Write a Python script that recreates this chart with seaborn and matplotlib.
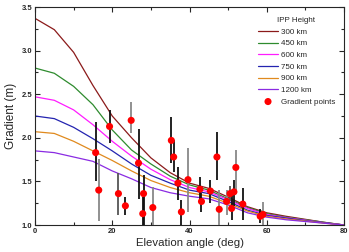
import pandas as pd
import seaborn as sns
from matplotlib import pyplot as plt

# model curves (every 5 deg)
elev = [0, 5, 10, 15, 20, 25, 30, 35, 40, 45, 50, 55, 60, 65, 70, 75, 80]
g300 = [3.37, 3.24, 2.98, 2.60, 2.25, 2.00, 1.77, 1.60, 1.48, 1.42, 1.32, 1.21, 1.14, 1.10, 1.065, 1.03, 1.00]
g450 = [2.80, 2.74, 2.59, 2.38, 2.09, 1.86, 1.70, 1.56, 1.46, 1.40, 1.30, 1.20, 1.13, 1.09, 1.06, 1.03, 1.00]
g600 = [2.47, 2.43, 2.32, 2.15, 1.96, 1.79, 1.64, 1.52, 1.43, 1.38, 1.29, 1.19, 1.12, 1.085, 1.055, 1.025, 1.00]
g750 = [2.25, 2.22, 2.12, 1.99, 1.85, 1.70, 1.57, 1.48, 1.40, 1.36, 1.27, 1.17, 1.11, 1.08, 1.05, 1.025, 1.00]
g900 = [2.07, 2.05, 1.96, 1.85, 1.74, 1.62, 1.51, 1.43, 1.37, 1.33, 1.25, 1.16, 1.10, 1.07, 1.045, 1.02, 1.00]
g1200 = [1.85, 1.83, 1.78, 1.73, 1.62, 1.53, 1.43, 1.37, 1.33, 1.30, 1.23, 1.14, 1.09, 1.06, 1.04, 1.02, 1.00]
heights = ['300 km', '450 km', '600 km', '750 km', '900 km', '1200 km']
colors = ['#8b1a1a', '#2e8b2e', '#ff1cff', '#2424b0', '#e08a1e', '#8a2be2']

# measured gradient points with error bars
elev_pts = [15.7, 16.5, 19.3, 21.6, 23.4, 24.9, 26.8, 27.9, 28.1, 30.5, 35.3, 35.9, 37.0, 37.9,
            39.6, 42.7, 43.1, 45.4, 47.1, 47.7, 49.6, 50.5, 50.9, 51.5, 52.0, 53.8, 58.3, 59.0]
grad_pts = [1.83, 1.40, 2.13, 1.36, 1.22, 2.20, 1.71, 1.13, 1.36, 1.20, 1.97, 1.78, 1.48, 1.15,
            1.52, 1.41, 1.27, 1.39, 1.78, 1.18, 1.27, 1.36, 1.19, 1.38, 1.66, 1.24, 1.10, 1.12]
lower = [1.50, 1.05, 1.94, 1.12, 1.12, 2.05, 1.30, 0.99, 0.99, 1.00, 1.71, 1.61, 1.29, 1.00,
         1.15, 1.27, 1.15, 1.25, 1.52, 0.97, 1.12, 1.28, 1.06, 1.22, 1.40, 1.06, 1.02, 1.00]
upper = [2.18, 1.76, 2.32, 1.60, 1.32, 2.41, 2.10, 1.32, 1.57, 1.44, 2.24, 1.97, 1.67, 1.29,
         1.88, 1.55, 1.37, 1.52, 2.07, 1.40, 1.40, 1.45, 1.37, 1.52, 1.86, 1.42, 1.18, 1.26]
bar_colors = ['#111111', '#888888', '#111111', '#555555', '#111111', '#888888', '#111111',
              '#111111', '#111111', '#888888', '#111111', '#111111', '#111111', '#111111',
              '#888888', '#111111', '#111111', '#111111', '#111111', '#888888', '#888888',
              '#555555', '#111111', '#111111', '#888888', '#111111', '#111111', '#888888']

sns.set_style('ticks')
plt.rcParams['font.family'] = ['Liberation Sans', 'DejaVu Sans']

df = pd.DataFrame({
    'elev': elev * 6,
    'grad': g300 + g450 + g600 + g750 + g900 + g1200,
    'IPP Height': sum([[h] * len(elev) for h in heights], []),
})
pts = pd.DataFrame({'elev': elev_pts, 'grad': grad_pts})

fig, ax = plt.subplots(figsize=(3.49, 2.52), dpi=100)
fig.subplots_adjust(left=35 / 349, right=344 / 349, bottom=1 - 225 / 252, top=1 - 7 / 252)

sns.lineplot(data=df, x='elev', y='grad', hue='IPP Height', hue_order=heights,
             palette=dict(zip(heights, colors)), linewidth=0.9, ax=ax)
ax.vlines(elev_pts, lower, upper, colors=bar_colors, linewidth=1.3, zorder=3)
sns.scatterplot(data=pts, x='elev', y='grad', color='#ff0000', s=26, edgecolor='none',
                label='Gradient points', zorder=4, ax=ax)

ax.set_xlim(0, 80)
ax.set_ylim(1.0, 3.5)
ax.set_xticks([0, 20, 40, 60, 80])
ax.set_xticks([10, 30, 50, 70], minor=True)
ax.set_yticks([1.0, 1.5, 2.0, 2.5, 3.0, 3.5])
ax.set_yticks([1.25, 1.75, 2.25, 2.75, 3.25], minor=True)
ax.set_yticklabels(['1.0', '1.5', '2.0', '2.5', '3.0', '3.5'])
ax.tick_params(which='both', direction='in', top=True, right=True, width=0.8)
ax.tick_params(which='major', length=3.5, labelsize=5.5, pad=2)
ax.tick_params(which='minor', length=2)
for t in ax.get_xticklabels() + ax.get_yticklabels():
    t.set_fontweight('bold')
for s in ax.spines.values():
    s.set_linewidth(0.8)

ax.set_xlabel('Elevation angle (deg)', fontsize=8.2, labelpad=2.5)
ax.set_ylabel('Gradient (m)', fontsize=8.5, labelpad=3)

h, l = ax.get_legend_handles_labels()
ax.legend(h, l, title='IPP Height', loc='upper right', bbox_to_anchor=(0.99, 0.98),
          frameon=False, fontsize=5.8, title_fontsize=5.8, handlelength=2.6,
          labelspacing=0.5, handletextpad=0.3, borderaxespad=0.3)

plt.savefig('out.png', dpi=100)
